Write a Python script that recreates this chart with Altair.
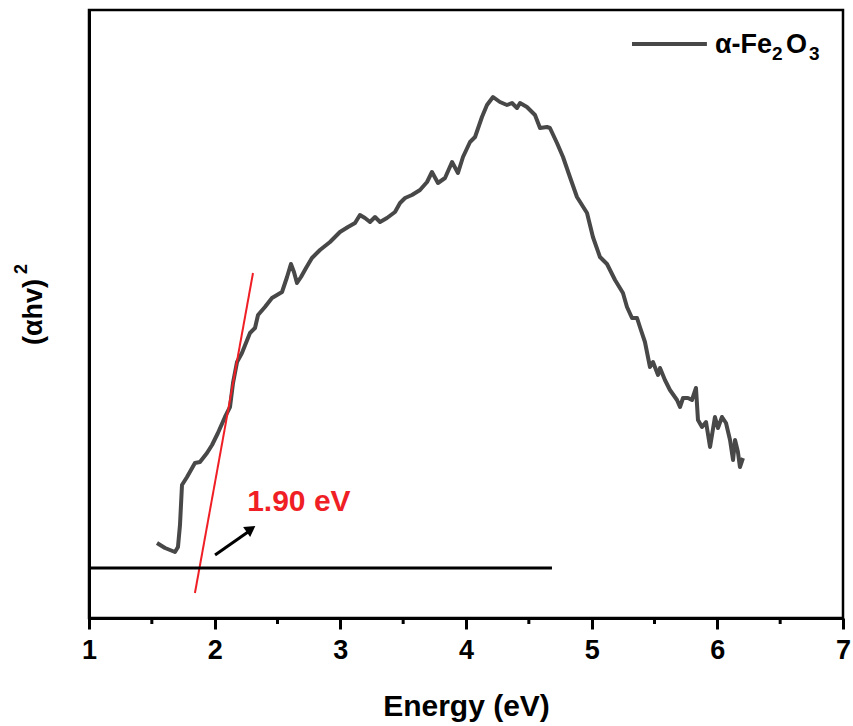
import altair as alt
import pandas as pd

# Tauc plot curve (energy in eV, (αhv)^2 in arbitrary units)
energy = [1.541, 1.605, 1.684, 1.708, 1.724, 1.740, 1.780, 1.843, 1.883, 1.939,
          1.979, 2.026, 2.082, 2.122, 2.146, 2.178, 2.217, 2.281, 2.321, 2.345,
          2.400, 2.456, 2.536, 2.576, 2.607, 2.631, 2.655, 2.687, 2.727, 2.774,
          2.838, 2.918, 2.997, 3.061, 3.117, 3.156, 3.196, 3.236, 3.276, 3.316,
          3.371, 3.435, 3.475, 3.515, 3.570, 3.634, 3.690, 3.729, 3.777, 3.833,
          3.889, 3.936, 3.976, 4.032, 4.072, 4.127, 4.167, 4.215, 4.270, 4.326,
          4.366, 4.406, 4.430, 4.485, 4.549, 4.589, 4.644, 4.668, 4.724, 4.772,
          4.827, 4.883, 4.963, 5.010, 5.066, 5.122, 5.186, 5.249, 5.281, 5.321,
          5.361, 5.384, 5.424, 5.464, 5.488, 5.528, 5.544, 5.583, 5.623, 5.679,
          5.703, 5.727, 5.766, 5.798, 5.830, 5.846, 5.878, 5.910, 5.942, 5.981,
          6.005, 6.037, 6.069, 6.101, 6.125, 6.141, 6.164, 6.180, 6.204]
absorb = [0.74, 0.69, 0.65, 0.70, 0.92, 1.32, 1.40, 1.54, 1.55, 1.64,
          1.72, 1.84, 2.00, 2.10, 2.34, 2.55, 2.64, 2.84, 2.89, 3.02,
          3.10, 3.19, 3.25, 3.40, 3.53, 3.45, 3.34, 3.40, 3.49, 3.59,
          3.67, 3.75, 3.85, 3.90, 3.94, 4.02, 3.99, 3.95, 4.00, 3.95,
          3.99, 4.05, 4.14, 4.19, 4.22, 4.27, 4.35, 4.45, 4.34, 4.39,
          4.55, 4.44, 4.60, 4.75, 4.80, 5.00, 5.12, 5.20, 5.15, 5.12,
          5.14, 5.09, 5.14, 5.10, 5.02, 4.89, 4.90, 4.89, 4.74, 4.60,
          4.40, 4.20, 4.04, 3.80, 3.60, 3.53, 3.37, 3.24, 3.10, 2.99,
          2.99, 2.90, 2.75, 2.50, 2.55, 2.42, 2.49, 2.37, 2.27, 2.17,
          2.10, 2.19, 2.19, 2.17, 2.29, 1.97, 1.90, 1.95, 1.70, 2.00,
          1.89, 2.00, 1.94, 1.77, 1.57, 1.77, 1.65, 1.50, 1.59]

# Tangent (fit) line and baseline
fit_x = [1.843, 2.305]
fit_y = [0.24, 3.44]
base_x = [1.0, 4.684]
base_y = [0.49, 0.49]

# Annotation
arrow_x = [2.003, 2.265]
arrow_y = [0.62, 0.85]
head_x = [2.289]
head_y = [0.88]
label_text = ["1.90 eV"]
label_x = [2.670]
label_y = [1.15]

# Legend (line sample + label pieces: main text and subscripts)
legend_x = [5.321, 5.917]
legend_y = [5.73, 5.73]
legend_main = ["α-Fe", "O"]
legend_main_x = [5.981, 6.546]
legend_sub = ["2", "3"]
legend_sub_x = [6.435, 6.729]

# Y title pieces
ytitle_main = ["(αhv)"]
ytitle_sup = ["2"]

major_ticks = [1, 2, 3, 4, 5, 6, 7]
minor_ticks = [1.5, 2.5, 3.5, 4.5, 5.5, 6.5]

FONT = "Liberation Sans"
RED = "#ef1f25"
CURVE = "#484848"
W, H = 754, 608

xs = alt.Scale(domain=[1, 7], nice=False, zero=False)
ys = alt.Scale(domain=[-0.01, 6.07], nice=False, zero=False)

curve_df = pd.DataFrame({"e": energy, "a": absorb, "o": range(len(energy))})
curve = alt.Chart(curve_df).mark_line(color=CURVE, strokeWidth=4, strokeJoin="round").encode(
    x=alt.X("e:Q", scale=xs, axis=alt.Axis(
        values=major_ticks, title="Energy (eV)", format="d", labelFlush=False,
        labelFont=FONT, labelFontSize=27, labelFontWeight="bold", labelColor="black",
        labelPadding=8, tickSize=11, tickWidth=3, tickColor="black",
        domainWidth=3, domainColor="black", grid=False,
        titleFont=FONT, titleFontSize=30, titleFontWeight="bold", titleColor="black",
        titleY=97, titleBaseline="alphabetic")),
    y=alt.Y("a:Q", scale=ys, axis=alt.Axis(
        title=None, ticks=False, labels=False, grid=False,
        domainWidth=3, domainColor="black")),
    order="o:Q",
)

fit = alt.Chart(pd.DataFrame({"x": fit_x, "y": fit_y})).mark_line(color=RED, strokeWidth=2).encode(
    x=alt.X("x:Q", scale=xs), y=alt.Y("y:Q", scale=ys))
base = alt.Chart(pd.DataFrame({"x": base_x, "y": base_y})).mark_line(color="black", strokeWidth=3).encode(
    x=alt.X("x:Q", scale=xs), y=alt.Y("y:Q", scale=ys))
arrow = alt.Chart(pd.DataFrame({"x": arrow_x, "y": arrow_y})).mark_line(color="black", strokeWidth=3).encode(
    x=alt.X("x:Q", scale=xs), y=alt.Y("y:Q", scale=ys))
head = alt.Chart(pd.DataFrame({"x": head_x, "y": head_y})).mark_point(
    shape="triangle-up", filled=True, color="black", size=150, angle=55, opacity=1).encode(
    x=alt.X("x:Q", scale=xs), y=alt.Y("y:Q", scale=ys))
label = alt.Chart(pd.DataFrame({"x": label_x, "y": label_y, "t": label_text})).mark_text(
    color=RED, font=FONT, fontSize=30, fontWeight="bold", align="center", baseline="middle").encode(
    x=alt.X("x:Q", scale=xs), y=alt.Y("y:Q", scale=ys), text="t:N")

minor = alt.Chart(pd.DataFrame({"x": minor_ticks})).mark_rule(color="black", strokeWidth=3).encode(
    x=alt.X("x:Q", scale=xs), y=alt.value(H), y2=alt.value(H + 6))

leg_line = alt.Chart(pd.DataFrame({"x": legend_x, "y": legend_y})).mark_line(color=CURVE, strokeWidth=4).encode(
    x=alt.X("x:Q", scale=xs), y=alt.Y("y:Q", scale=ys))
leg_main = alt.Chart(pd.DataFrame({"x": legend_main_x, "t": legend_main})).mark_text(
    color="black", font=FONT, fontSize=27, fontWeight="bold", align="left", baseline="alphabetic").encode(
    x=alt.X("x:Q", scale=xs), y=alt.value(43), text="t:N")
leg_sub = alt.Chart(pd.DataFrame({"x": legend_sub_x, "t": legend_sub})).mark_text(
    color="black", font=FONT, fontSize=19, fontWeight="bold", align="left", baseline="alphabetic").encode(
    x=alt.X("x:Q", scale=xs), y=alt.value(50), text="t:N")

yt_main = alt.Chart(pd.DataFrame({"t": ytitle_main})).mark_text(
    color="black", font=FONT, fontSize=27, fontWeight="bold", align="center", baseline="middle", angle=270).encode(
    x=alt.value(-55), y=alt.value(302), text="t:N")
yt_sup = alt.Chart(pd.DataFrame({"t": ytitle_sup})).mark_text(
    color="black", font=FONT, fontSize=18, fontWeight="bold", align="center", baseline="middle", angle=270).encode(
    x=alt.value(-67), y=alt.value(259), text="t:N")

chart = alt.layer(curve, fit, base, arrow, head, label, minor, leg_line, leg_main, leg_sub,
                  yt_main, yt_sup).properties(
    width=W, height=H,
    autosize=alt.AutoSizeParams(type="none"),
    padding={"left": 89, "top": 10, "right": 10, "bottom": 108},
    background="white",
).configure_view(stroke="black", strokeWidth=2.5)

chart.save("out.html", embed_options={"renderer": "svg", "actions": False})
